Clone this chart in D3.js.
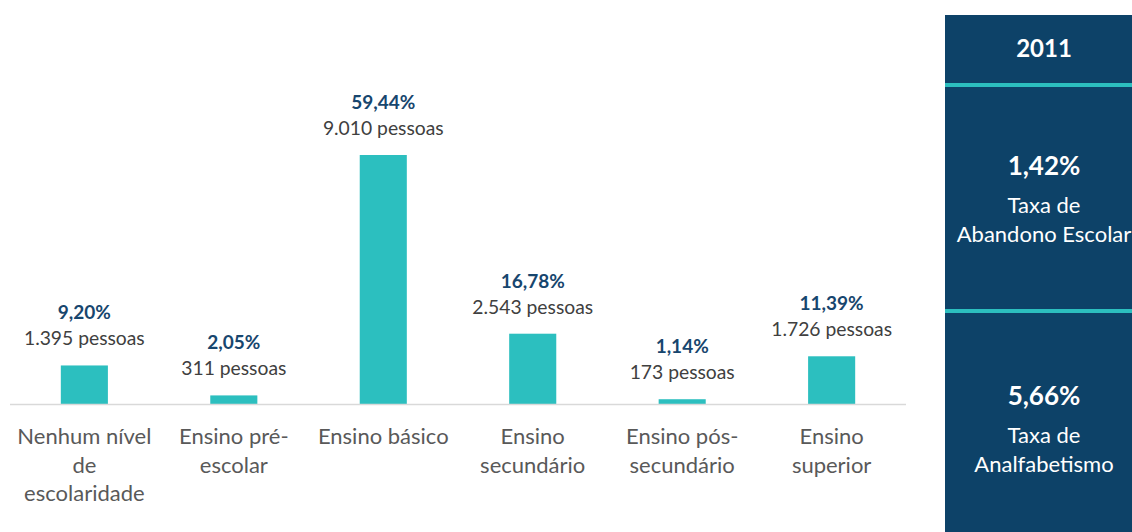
<!DOCTYPE html>
<html>
<head>
<meta charset="utf-8">
<script src="https://cdn.jsdelivr.net/npm/d3@7"></script>
<style>
  body { margin: 0; background: #fff; }
  svg { display: block; font-family: Lato, "Open Sans", sans-serif; }
</style>
</head>
<body>
<svg id="chart"></svg>
<script>
// data
const categories = [
  ["Nenhum nível", "de", "escolaridade"],
  ["Ensino pré-", "escolar"],
  ["Ensino básico"],
  ["Ensino", "secundário"],
  ["Ensino pós-", "secundário"],
  ["Ensino", "superior"]
];
const percents = [9.20, 2.05, 59.44, 16.78, 1.14, 11.39];
const people = [1395, 311, 9010, 2543, 173, 1726];

const panelYear = "2011";
const panelValues = [1.42, 5.66];
const panelLabels = [["Taxa de", "Abandono Escolar"], ["Taxa de", "Analfabetismo"]];

const W = 1132, H = 532;
const margin = {top: 10, right: 226, bottom: 128, left: 10};
const fmtPct = v => v.toFixed(2).replace(".", ",") + "%";
const fmtNum = v => d3.format(",")(v).replace(/,/g, ".") + " pessoas";

const svg = d3.select("#chart").attr("width", W).attr("height", H);
const chart = svg.append("g").attr("transform", `translate(${margin.left}, ${margin.top})`);

const inner_width = W - margin.left - margin.right;
const inner_height = H - margin.top - margin.bottom;

const idx = d3.range(percents.length);
const xscale = d3.scaleBand().domain(idx).range([0, inner_width]).paddingInner(0.685).paddingOuter(0.34);
const yscale = d3.scaleLinear().domain([0, 59.44]).range([inner_height, inner_height - 249]);

// bars
chart.selectAll("rect.bar")
  .data(idx)
  .join("rect")
  .attr("class", "bar")
  .attr("x", i => xscale(i))
  .attr("y", i => yscale(percents[i]))
  .attr("width", xscale.bandwidth())
  .attr("height", i => yscale(0) - yscale(percents[i]))
  .style("fill", "#2cbfbf");

// baseline
chart.append("line")
  .attr("x1", 0).attr("x2", inner_width)
  .attr("y1", inner_height + 0.5).attr("y2", inner_height + 0.5)
  .style("stroke", "#d9d9d9").style("stroke-width", 1.5);

const cx = i => xscale(i) + xscale.bandwidth() / 2;

// value labels
chart.selectAll("text.pct")
  .data(idx)
  .join("text")
  .attr("class", "pct")
  .attr("x", cx)
  .attr("y", i => yscale(percents[i]) - 46)
  .attr("text-anchor", "middle")
  .style("font-size", "19px").style("font-weight", "bold").style("fill", "#17466e")
  .text(i => fmtPct(percents[i]));

chart.selectAll("text.cnt")
  .data(idx)
  .join("text")
  .attr("class", "cnt")
  .attr("x", cx)
  .attr("y", i => yscale(percents[i]) - 20)
  .attr("text-anchor", "middle")
  .style("font-size", "19.3px").style("fill", "#404040")
  .text(i => fmtNum(people[i]));

// category labels
const cats = chart.selectAll("text.cat")
  .data(idx)
  .join("text")
  .attr("class", "cat")
  .attr("text-anchor", "middle")
  .style("font-size", "22px").style("fill", "#595959");
cats.selectAll("tspan")
  .data(i => categories[i].map((t, k) => ({t, k, i})))
  .join("tspan")
  .attr("x", d => cx(d.i))
  .attr("y", d => inner_height + 40 + d.k * 28.7)
  .text(d => d.t);

// right panel
const px = 945, pw = W - px;
const panel = svg.append("g");
panel.append("rect")
  .attr("x", px).attr("y", 15).attr("width", pw).attr("height", H - 15)
  .style("fill", "#0d4268");
[85, 311].forEach(y => {
  panel.append("rect").attr("x", px).attr("y", y - 2).attr("width", pw).attr("height", 4)
    .style("fill", "#2cbfbf");
});
const pcx = 1044;
panel.append("text")
  .attr("x", pcx).attr("y", 57).attr("text-anchor", "middle")
  .style("font-size", "24px").style("font-weight", "bold").style("fill", "#fff")
  .text(panelYear);

const blockY = [175, 405];
panelValues.forEach((v, k) => {
  panel.append("text")
    .attr("x", pcx).attr("y", blockY[k]).attr("text-anchor", "middle")
    .style("font-size", "26px").style("font-weight", "bold").style("fill", "#fff")
    .text(fmtPct(v));
  panelLabels[k].forEach((t, j) => {
    panel.append("text")
      .attr("x", pcx).attr("y", blockY[k] + 38 + j * 29).attr("text-anchor", "middle")
      .style("font-size", "22px").style("fill", "#fff")
      .text(t);
  });
});
</script>
</body>
</html>
